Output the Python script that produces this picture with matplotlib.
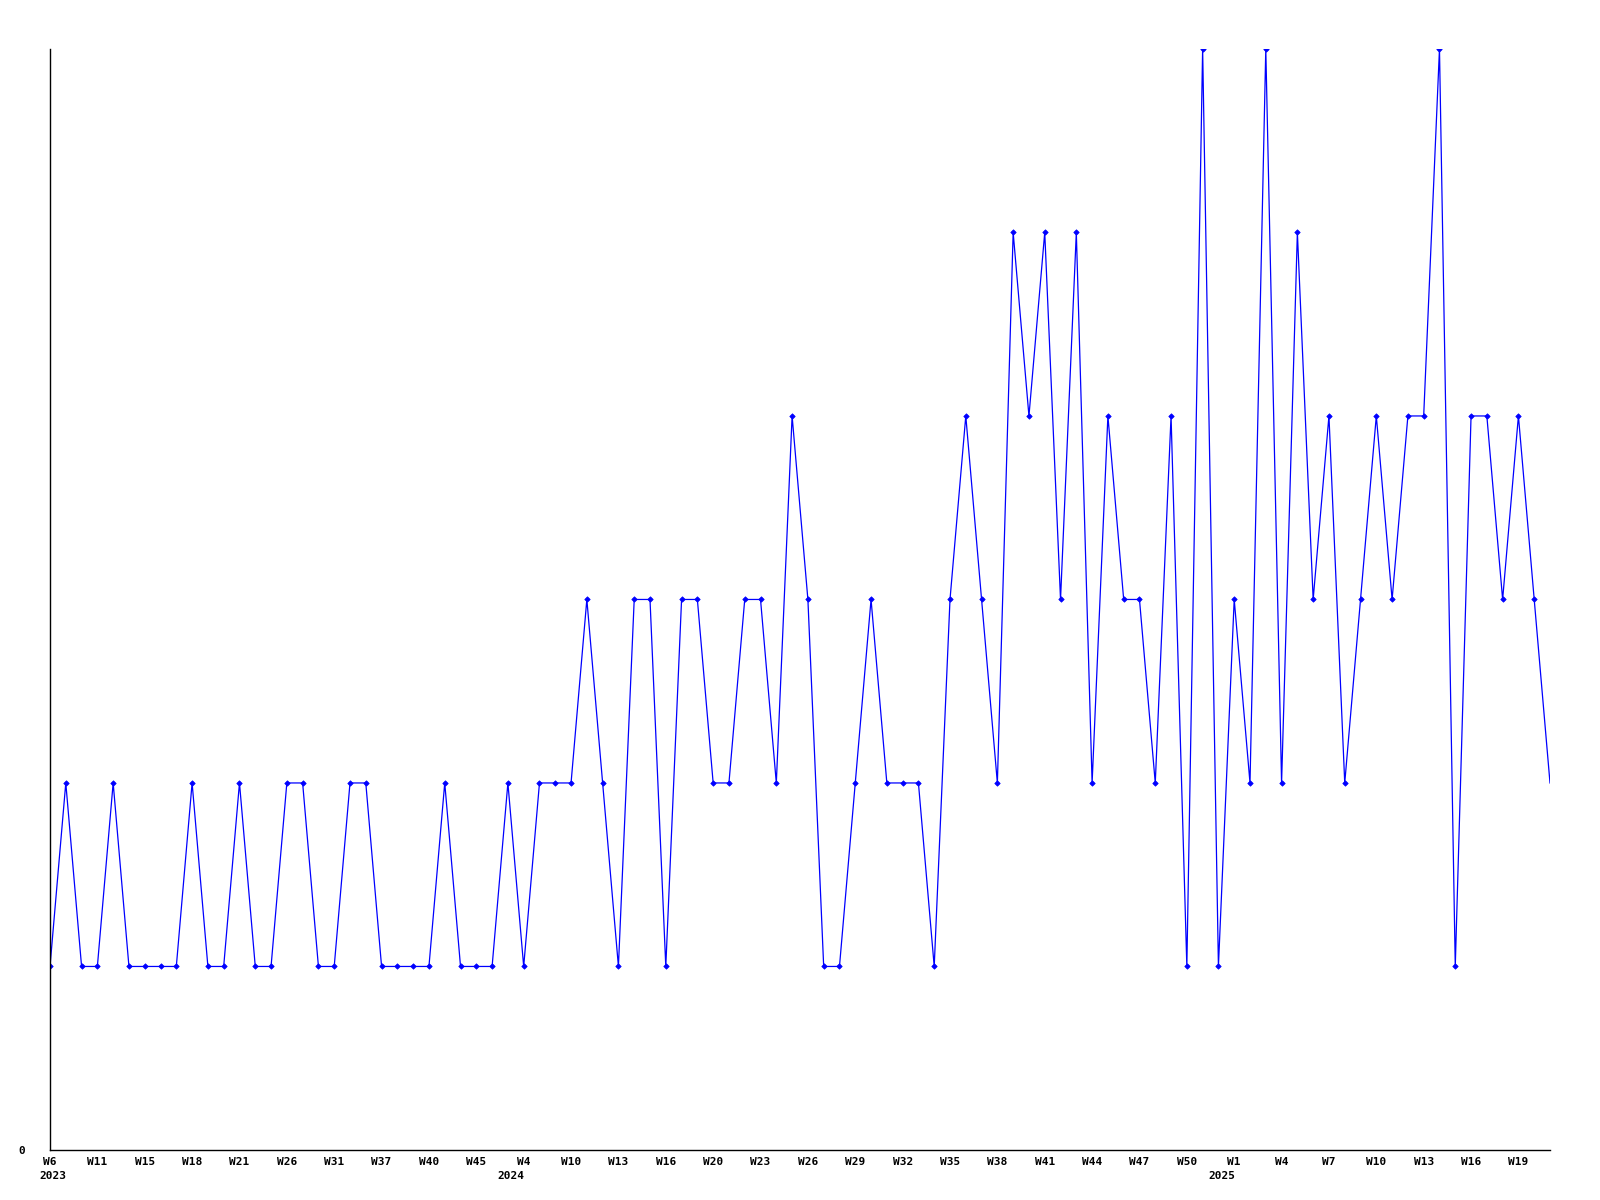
import matplotlib
matplotlib.use("Agg")
import matplotlib.pyplot as plt
from matplotlib.font_manager import FontProperties

# weekly counts, one point per week with data
counts = [1, 2, 1, 1, 2, 1, 1, 1, 1, 2, 1, 1, 2, 1, 1, 2, 2, 1, 1, 2,
          2, 1, 1, 1, 1, 2, 1, 1, 1, 2, 1, 2, 2, 2, 3, 2, 1, 3, 3, 1,
          3, 3, 2, 2, 3, 3, 2, 4, 3, 1, 1, 2, 3, 2, 2, 2, 1, 3, 4, 3,
          2, 5, 4, 5, 3, 5, 2, 4, 3, 3, 2, 4, 1, 6, 1, 3, 2, 6, 2, 5,
          3, 4, 2, 3, 4, 3, 4, 4, 6, 1, 4, 4, 3, 4, 3, 2]

# every third week is labelled
tick_labels = ["W6", "W11", "W15", "W18", "W21", "W26", "W31", "W37",
               "W40", "W45", "W4", "W10", "W13", "W16", "W20", "W23",
               "W26", "W29", "W32", "W35", "W38", "W41", "W44", "W47",
               "W50", "W1", "W4", "W7", "W10", "W13", "W16", "W19"]

# year markers: (point index, year)
year_index = [0, 30, 75]
year_labels = ["2023", "2024", "2025"]

font = FontProperties(family="DejaVu Sans Mono", weight="bold", size=8)

fig = plt.figure(figsize=(16, 12), dpi=100)
ax = fig.add_axes([0.03125, 0.0417, 0.9375, 0.9175])

x = list(range(len(counts)))
# last week is still in progress: line only, no marker
ax.plot(x, counts, color="#0000ff", linewidth=0.9, marker="D", markersize=2.8,
        markeredgewidth=0.5, markevery=list(range(len(counts) - 1)))

ax.set_xlim(0, len(counts) - 1)
ax.set_ylim(0, 6)

ax.set_xticks(range(0, 3 * len(tick_labels), 3))
ax.set_xticklabels(tick_labels)
ax.set_yticks([0])
ax.set_yticklabels(["0"])
for lbl in ax.get_xticklabels() + ax.get_yticklabels():
    lbl.set_fontproperties(font)

ax.tick_params(axis="both", length=0)
ax.tick_params(axis="x", pad=5)
ax.tick_params(axis="y", pad=18)

# year text under the week label; first one flush left, the others flush right
for i, (idx, yr) in enumerate(zip(year_index, year_labels)):
    if i == 0:
        ax.annotate(yr, xy=(idx, 0), xycoords=("data", "axes fraction"),
                    xytext=(-11 * 0.72, -21 * 0.72), textcoords="offset points",
                    ha="left", va="top", fontproperties=font)
    else:
        ax.annotate(yr, xy=(idx, 0), xycoords=("data", "axes fraction"),
                    xytext=(1 * 0.72, -21 * 0.72), textcoords="offset points",
                    ha="right", va="top", fontproperties=font)

for side in ["top", "right"]:
    ax.spines[side].set_visible(False)
for side in ["left", "bottom"]:
    ax.spines[side].set_color("black")
    ax.spines[side].set_linewidth(1)

fig.savefig("out.png", dpi=100)
